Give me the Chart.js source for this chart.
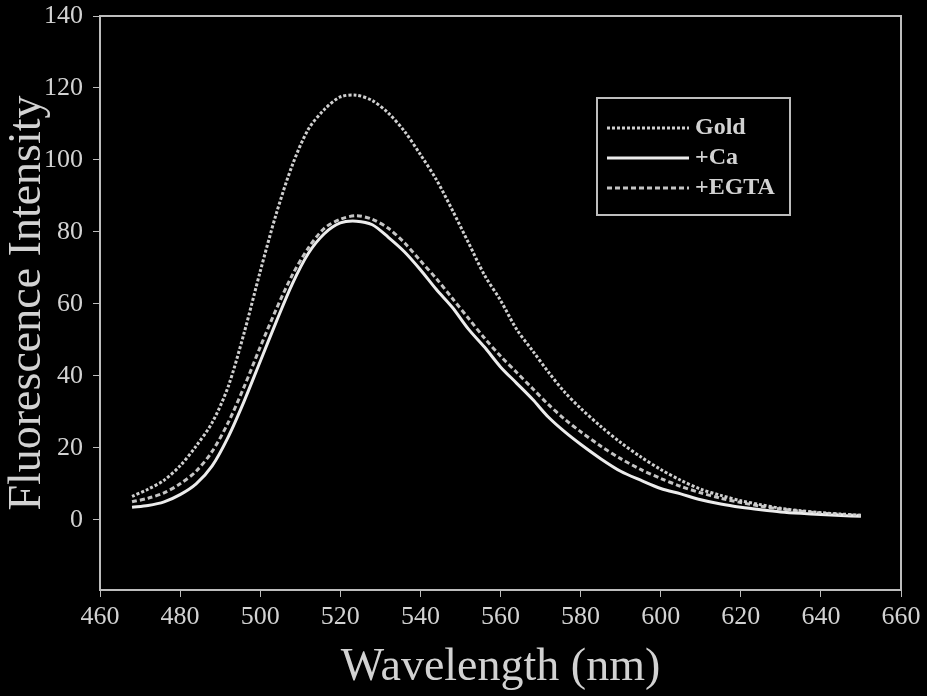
<!DOCTYPE html>
<html>
<head>
<meta charset="utf-8">
<script src="https://cdn.jsdelivr.net/npm/chart.js@4/dist/chart.umd.min.js"></script>
<style>
html,body{margin:0;padding:0;background:#000;}
#wrap{width:927px;height:696px;position:relative;}
</style>
</head>
<body>
<div id="wrap"><canvas id="c" width="927" height="696"></canvas></div>
<script>
// ---- data ----
const wavelengths = [468,472,476,480,484,488,492,496,500,504,508,512,516,520,524,528,532,536,540,544,548,552,556,560,564,568,572,576,580,585,590,595,600,605,610,615,620,625,630,635,640,645,650];
const seriesNames = ["Gold", "+Ca", "+EGTA"];
const goldValues = [6.5,8.5,11,15,20.5,27,37,52,69,85,98.5,108.5,114,117.5,118,116.5,113,108,101.5,94.5,86,77,68,61,53,47,41,35.5,31,26,21.5,17.5,14,11,8.5,6.8,5.3,4.2,3.2,2.5,2,1.6,1.3];
const caValues = [3.5,4,5,7,10,15,23,33,44,55,65.5,74,79.5,82.5,83,82,78.5,74.5,69.5,64,59,53,48,42.5,38,33.5,28.5,24.5,21,17,13.5,11,8.7,7.2,5.6,4.4,3.5,2.8,2.2,1.8,1.5,1.2,1];
const egtaValues = [5,6,7.5,10,13.5,19,27,37,48,58.5,68,75.5,81,83.5,84.5,83.5,81,77,72,67,61.5,56,50.5,45.5,41,36.5,32,28,24.5,20.5,17,14,11.5,9.3,7.5,6,4.8,3.8,3,2.4,1.9,1.5,1.2];
const xTicks = [460,480,500,520,540,560,580,600,620,640,660];
const yTicks = [0,20,40,60,80,100,120,140];

const ink = "#d2d2d2";
const fontFam = "'Liberation Serif','Times New Roman',serif";

function pts(vals){ return wavelengths.map((w,i)=>({x:w,y:vals[i]})); }

const bgPlugin = {
  id:'bg',
  beforeDraw(chart){
    const c = chart.ctx; c.save(); c.fillStyle='#000'; c.fillRect(0,0,chart.width,chart.height); c.restore();
  }
};
const framePlugin = {
  id:'frame',
  afterDraw(chart){
    const a = chart.chartArea, c = chart.ctx;
    c.save(); c.strokeStyle = "#bdbdbd"; c.lineWidth = 2;
    c.strokeRect(a.left, a.top, a.right-a.left, a.bottom-a.top);
    // legend box
    const bx=597, by=98, bw=193, bh=117;
    c.strokeRect(bx, by, bw, bh);
    c.font = "bold 24px " + fontFam; c.textBaseline = "middle"; c.textAlign = "left";
    chart.data.datasets.forEach((ds,i)=>{
      const y = by + 30 + i*30;
      c.strokeStyle = ds.borderColor; c.lineWidth = ds.borderWidth;
      c.setLineDash(ds.borderDash || []);
      c.beginPath(); c.moveTo(bx+10, y); c.lineTo(bx+92, y); c.stroke();
      c.setLineDash([]);
      c.fillStyle = ink;
      c.fillText(ds.label, bx+98, y);
    });
    c.restore();
  }
};

new Chart(document.getElementById('c'), {
  type:'line',
  data:{
    datasets:[
      {label:seriesNames[0], data:pts(goldValues), borderColor:"#cfcfcf", borderWidth:3, borderDash:[3,2], pointRadius:0, tension:0.3},
      {label:seriesNames[1], data:pts(caValues), borderColor:"#ececec", borderWidth:3, pointRadius:0, tension:0.3},
      {label:seriesNames[2], data:pts(egtaValues), borderColor:"#c4c4c4", borderWidth:3, borderDash:[5,3], pointRadius:0, tension:0.3}
    ]
  },
  options:{
    responsive:false, animation:false,
    layout:{padding:{top:16,right:26,left:0,bottom:0}},
    plugins:{legend:{display:false}, tooltip:{enabled:false}},
    scales:{
      x:{
        type:'linear', min:460, max:660,
        afterBuildTicks(s){ s.ticks = xTicks.map(v=>({value:v})); },
        afterFit(s){ s.height = 106; s.paddingLeft = 0; s.paddingRight = 0; },
        grid:{drawOnChartArea:false, color:"#bdbdbd", tickColor:"#bdbdbd", tickLength:7},
        border:{display:true, color:"#bdbdbd", width:2},
        ticks:{color:ink, font:{family:fontFam, size:26}, padding:5, maxRotation:0},
        title:{display:true, text:"Wavelength (nm)", color:ink, font:{family:fontFam, size:46}, padding:{top:0,bottom:0}}
      },
      y:{
        type:'linear', min:-19.5, max:140,
        afterBuildTicks(s){ s.ticks = yTicks.map(v=>({value:v})); },
        afterFit(s){ s.width = 100; s.paddingTop = 0; s.paddingBottom = 0; },
        grid:{drawOnChartArea:false, color:"#bdbdbd", tickColor:"#bdbdbd", tickLength:7},
        border:{display:true, color:"#bdbdbd", width:2},
        ticks:{color:ink, font:{family:fontFam, size:26}, padding:10},
        title:{display:true, text:"Fluorescence Intensity", color:ink, font:{family:fontFam, size:46}, padding:{top:0,bottom:0}}
      }
    }
  },
  plugins:[bgPlugin, framePlugin]
});
</script>
</body>
</html>
